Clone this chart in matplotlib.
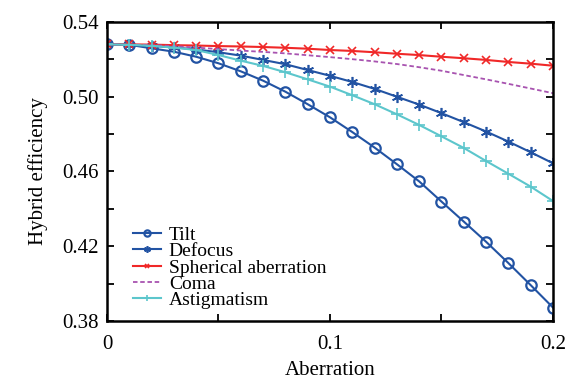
import numpy as np
import matplotlib
matplotlib.use('Agg')
from matplotlib import pyplot as plt
from matplotlib.ticker import MultipleLocator

plt.rcParams['font.family'] = ['Liberation Serif', 'DejaVu Serif']

aberration = np.round(np.arange(0, 0.2001, 0.01), 2)

tilt = [0.5280, 0.5278, 0.5259, 0.5241, 0.5214, 0.5179, 0.5136, 0.5086, 0.5027,
        0.4960, 0.4890, 0.4811, 0.4728, 0.4639, 0.4547, 0.4439, 0.4332, 0.4224,
        0.4110, 0.3992, 0.3872]
defocus = [0.5280, 0.5278, 0.5272, 0.5264, 0.5253, 0.5238, 0.5220, 0.5197, 0.5174,
           0.5143, 0.5112, 0.5079, 0.5042, 0.5000, 0.4958, 0.4912, 0.4864, 0.4814,
           0.4760, 0.4703, 0.4644]
spherical = [0.5280, 0.5280, 0.5279, 0.5276, 0.5274, 0.5271, 0.5269, 0.5266, 0.5262,
             0.5257, 0.5250, 0.5245, 0.5238, 0.5230, 0.5223, 0.5214, 0.5206, 0.5197,
             0.5186, 0.5177, 0.5166]
coma = [0.5280, 0.5279, 0.5276, 0.5271, 0.5263, 0.5255, 0.5247, 0.5240, 0.5232,
        0.5222, 0.5212, 0.5201, 0.5189, 0.5175, 0.5158, 0.5139, 0.5116, 0.5093,
        0.5069, 0.5044, 0.5019]
astigmatism = [0.5280, 0.5278, 0.5272, 0.5263, 0.5250, 0.5223, 0.5193, 0.5165, 0.5131,
               0.5093, 0.5054, 0.5008, 0.4960, 0.4906, 0.4849, 0.4788, 0.4726, 0.4656,
               0.4588, 0.4519, 0.4442]

x_ticks = [0, 0.1, 0.2]
x_labels = ['0', '0.1', '0.2']
y_ticks = [0.38, 0.42, 0.46, 0.50, 0.54]
y_labels = ['0.38', '0.42', '0.46', '0.50', '0.54']

fig = plt.figure(figsize=(5.66, 3.79), dpi=100)
ax = fig.add_axes([0.189, 0.153, 0.788, 0.789])

blue = '#2253a3'
ax.plot(aberration, tilt, color=blue, lw=1.5, marker='o', ms=7.5, mfc='none', mew=1.6, label='Tilt')
ax.plot(aberration, defocus, color=blue, lw=1.5, marker=(6, 2, 0), ms=8, mew=1.2, label='Defocus')
ax.plot(aberration, spherical, color='#f02828', lw=1.5, marker='x', ms=6, mew=1.2, label='Spherical aberration')
ax.plot(aberration, coma, color='#a853b0', lw=1.3, ls=(0, (2.5, 1.5)), label='Coma')
ax.plot(aberration, astigmatism, color='#5cc6cc', lw=1.5, marker='+', ms=8, mew=1.2, label='Astigmatism')

ax.set_xlim(0, 0.2)
ax.set_ylim(0.38, 0.54)
ax.set_xticks(x_ticks)
ax.set_xticklabels(x_labels)
ax.set_yticks(y_ticks)
ax.set_yticklabels(y_labels)
ax.xaxis.set_minor_locator(MultipleLocator(0.05))
ax.yaxis.set_minor_locator(MultipleLocator(0.02))
ax.tick_params(which='both', direction='in', top=True, right=True, length=5, width=1.3, labelsize=15)
ax.tick_params(axis='x', pad=10)
ax.tick_params(axis='y', pad=6)
for s in ax.spines.values():
    s.set_linewidth(1.8)

ax.set_xlabel('Aberration', fontsize=15, labelpad=5)
ax.set_ylabel('Hybrid efficiency', fontsize=15, labelpad=10)

ax.legend(loc='lower left', bbox_to_anchor=(0.058, 0.04), frameon=False, fontsize=14,
          handlelength=1.45, handletextpad=0.4, labelspacing=-0.07, markerscale=0.6,
          numpoints=1, borderaxespad=0.0, borderpad=0.0)

fig.savefig('out.png', dpi=100)
